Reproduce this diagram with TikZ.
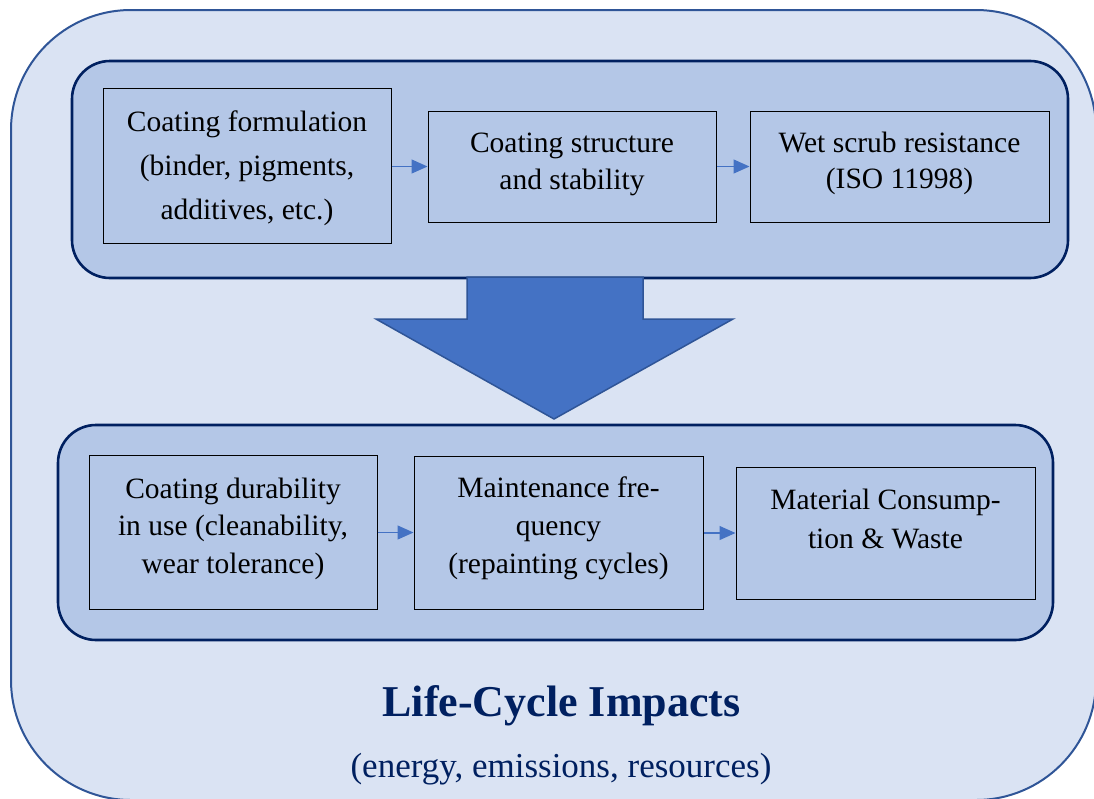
\documentclass[tikz,border=0pt]{standalone}
\usepackage{fontspec}
\setmainfont{Liberation Serif}
\usetikzlibrary{arrows.meta}
\definecolor{outerfill}{HTML}{DAE3F3}
\definecolor{outerline}{HTML}{2F5597}
\definecolor{panelfill}{HTML}{B4C7E7}
\definecolor{navy}{HTML}{002060}
\definecolor{accent}{HTML}{4472C4}
\tikzset{
  outerframe/.style={draw=outerline, line width=2pt, fill=outerfill, rounded corners=120pt},
  panel/.style={draw=navy, line width=2.6pt, fill=panelfill, rounded corners=38pt},
  stepbox/.style={draw=black, line width=1pt, rectangle, inner sep=0pt},
  boxtext/.style={align=center, text=black, inner sep=0pt},
  flow/.style={draw=accent, line width=1.2pt, -{Triangle[length=16pt,width=14pt]}},
  bigarrow/.style={draw=outerline, line width=1.5pt, fill=accent, line join=miter},
}
\begin{document}
\begin{tikzpicture}[x=1pt,y=-1pt]
\useasboundingbox (0,0) rectangle (1094,798);
\begin{scope}
\clip (0,0) rectangle (1094,798);
\draw[outerframe] (11,10) rectangle (1096,800);
\end{scope}
% panels
\draw[panel] (72,61) rectangle (1068,278);
\draw[panel] (58,425) rectangle (1053,640);
% top row boxes
\node[stepbox, minimum width=288pt, minimum height=155pt] (b1) at (247,165.5) {};
\node[stepbox, minimum width=288pt, minimum height=111pt] (b2) at (572,166.5) {};
\node[stepbox, minimum width=299pt, minimum height=111pt] (b3) at (899.5,166.5) {};
\node[boxtext, font=\fontsize{29.5}{44}\selectfont] (t1) at (247,168.5) {Coating formulation\\(binder, pigments,\\additives, etc.)};
\node[boxtext, font=\fontsize{29.5}{37}\selectfont] (t2) at (572,164.5) {Coating structure\\and stability};
\node[boxtext, font=\fontsize{29.5}{36}\selectfont] (t3) at (899.5,163) {Wet scrub resistance\\(ISO 11998)};
% bottom row boxes
\node[stepbox, minimum width=288pt, minimum height=154pt] (b4) at (233,532) {};
\node[stepbox, minimum width=289pt, minimum height=153pt] (b5) at (558.5,532.5) {};
\node[stepbox, minimum width=299pt, minimum height=132pt] (b6) at (885.5,533) {};
\node[boxtext, font=\fontsize{29.5}{37.5}\selectfont] (t4) at (233,528.5) {Coating durability\\in use (cleanability,\\wear tolerance)};
\node[boxtext, font=\fontsize{29.5}{38}\selectfont] (t5) at (558.5,528) {Maintenance fre-\\quency\\(repainting cycles)};
\node[boxtext, font=\fontsize{29.5}{39}\selectfont] (t6) at (885.5,519) {Material Consump-\\tion \& Waste};
% small arrows
\draw[flow] (b1.east |- b2.west) -- (b2.west);
\draw[flow] (b2.east) -- (b3.west);
\draw[flow] (b4.east |- b5.west) -- (b5.west);
\draw[flow] (b5.east |- b6.west) -- (b6.west);
% big arrow
\draw[bigarrow] (467,277) -- (643,277) -- (643,319) -- (733,319) -- (554,419) -- (376,319) -- (467,319) -- cycle;
% titles
\node[anchor=base, text=navy, inner sep=0pt, font=\bfseries\fontsize{44}{50}\selectfont] (title) at (561.5,716) {Life-Cycle Impacts};
\node[anchor=base, text=navy, inner sep=0pt, font=\fontsize{35}{40}\selectfont] (subtitle) at (561,777) {(energy, emissions, resources)};
\end{tikzpicture}
\end{document}
